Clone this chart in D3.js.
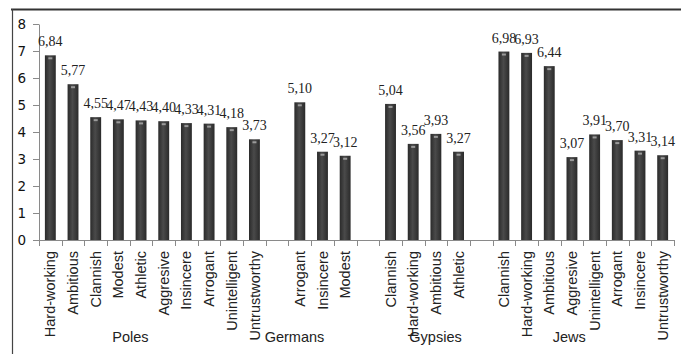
<!DOCTYPE html>
<html>
<head>
<meta charset="utf-8">
<script src="https://cdn.jsdelivr.net/npm/d3@7"></script>
<style>
  body { margin: 0; background: #fff; }
</style>
</head>
<body>
<svg id="chart"></svg>
<script>
// values
const groups = ["Poles", "Germans", "Gypsies", "Jews"];
const polesTraits = ["Hard-working", "Ambitious", "Clannish", "Modest", "Athletic", "Aggresive", "Insincere", "Arrogant", "Unintelligent", "Untrustworthy"];
const polesValues = [6.84, 5.77, 4.55, 4.47, 4.43, 4.40, 4.33, 4.31, 4.18, 3.73];
const germansTraits = ["Arrogant", "Insincere", "Modest"];
const germansValues = [5.10, 3.27, 3.12];
const gypsiesTraits = ["Clannish", "Hard-working", "Ambitious", "Athletic"];
const gypsiesValues = [5.04, 3.56, 3.93, 3.27];
const jewsTraits = ["Clannish", "Hard-working", "Ambitious", "Aggresive", "Unintelligent", "Arrogant", "Insincere", "Untrustworthy"];
const jewsValues = [6.98, 6.93, 6.44, 3.07, 3.91, 3.70, 3.31, 3.14];
const yTicks = [0, 1, 2, 3, 4, 5, 6, 7, 8];

const traits = [polesTraits, germansTraits, gypsiesTraits, jewsTraits];
const values = [polesValues, germansValues, gypsiesValues, jewsValues];

const width = 694, height = 357;
const plot = { left: 39, right: 674, top: 24, bottom: 240 };
// group captions are not centred in the original
const groupNudge = { Poles: -22, Germans: -28, Gypsies: 11, Jews: -14 };

const svg = d3.select("#chart")
    .attr("width", width)
    .attr("height", height);

// one slot per bar, plus an empty slot between groups
const slots = [];
groups.forEach((g, gi) => {
    traits[gi].forEach((t, i) => {
        slots.push({ group: g, trait: t, value: values[gi][i], key: g + "|" + t });
    });
    if (gi < groups.length - 1) slots.push({ key: "gap" + gi });
});
const bars = slots.filter(d => d.group);

const x = d3.scaleBand()
    .domain(slots.map(d => d.key))
    .range([plot.left, plot.right])
    .padding(0);
const step = x.step();

const y = d3.scaleLinear()
    .domain([0, 8])
    .range([plot.bottom, plot.top]);

const comma = d3.formatLocale({ decimal: ",", thousands: ".", grouping: [3], currency: ["", ""] }).format(".2f");

// bar shading
const grad = svg.append("defs").append("linearGradient")
    .attr("id", "barGrad")
    .attr("x1", "0%").attr("x2", "100%").attr("y1", "0%").attr("y2", "0%");
grad.append("stop").attr("offset", "0%").attr("stop-color", "#2a2a2a");
grad.append("stop").attr("offset", "45%").attr("stop-color", "#4a4a4a");
grad.append("stop").attr("offset", "100%").attr("stop-color", "#2a2a2a");

// frame (only top and left edge survive the crop)
svg.append("line")
    .attr("x1", 11).attr("x2", 681).attr("y1", 9.5).attr("y2", 9.5)
    .attr("stroke", "#333").attr("stroke-width", 2);
svg.append("line")
    .attr("x1", 12.5).attr("x2", 12.5).attr("y1", 9).attr("y2", 354)
    .attr("stroke", "#444").attr("stroke-width", 1.2);

// y axis
const yAxis = svg.append("g")
    .attr("transform", `translate(${plot.left},0)`)
    .call(d3.axisLeft(y).tickValues(yTicks).tickSize(6).tickPadding(7).tickSizeOuter(0));
yAxis.select(".domain").attr("stroke", "#8a8a8a");
yAxis.selectAll(".tick line").attr("stroke", "#8a8a8a");
yAxis.selectAll(".tick text")
    .attr("fill", "#111")
    .style("font-family", "'DejaVu Sans', Verdana, sans-serif")
    .style("font-size", "13.5px");

// x axis line and boundary ticks
const xAxis = svg.append("g");
xAxis.append("line")
    .attr("x1", plot.left).attr("x2", plot.right)
    .attr("y1", plot.bottom + 0.5).attr("y2", plot.bottom + 0.5)
    .attr("stroke", "#8a8a8a");
const bounds = slots.map(d => x(d.key)).concat([plot.right]);
xAxis.selectAll(".xtick")
    .data(bounds)
    .enter()
    .append("line")
    .attr("class", "xtick")
    .attr("x1", d => Math.round(d) + 0.5).attr("x2", d => Math.round(d) + 0.5)
    .attr("y1", plot.bottom).attr("y2", plot.bottom + 6)
    .attr("stroke", "#8a8a8a");

// bars
const barW = step * 0.48;
svg.selectAll(".bar")
    .data(bars)
    .enter()
    .append("rect")
    .attr("class", "bar")
    .attr("x", d => x(d.key) + (step - barW) / 2)
    .attr("y", d => y(d.value))
    .attr("width", barW)
    .attr("height", d => y(0) - y(d.value))
    .attr("fill", "url(#barGrad)");

// small light cap on top of each bar
svg.selectAll(".cap")
    .data(bars)
    .enter()
    .append("rect")
    .attr("class", "cap")
    .attr("x", d => x(d.key) + step / 2 - 2)
    .attr("y", d => y(d.value) + 2)
    .attr("width", 4)
    .attr("height", 2)
    .attr("fill", "#9a9a9a");

// value labels
svg.selectAll(".val")
    .data(bars)
    .enter()
    .append("text")
    .attr("class", "val")
    .attr("x", d => x(d.key) + step / 2)
    .attr("y", d => y(d.value) - 9)
    .attr("text-anchor", "middle")
    .style("font-family", "'Liberation Serif', 'Times New Roman', serif")
    .style("font-size", "14px")
    .attr("fill", "#222")
    .text(d => comma(d.value));

// rotated trait labels
svg.selectAll(".cat")
    .data(bars)
    .enter()
    .append("text")
    .attr("class", "cat")
    .attr("transform", d => `translate(${x(d.key) + step / 2},251) rotate(-90)`)
    .attr("dy", "0.35em")
    .attr("text-anchor", "end")
    .style("font-family", "'Liberation Sans', Arial, sans-serif")
    .style("font-size", "14.5px")
    .attr("fill", "#222")
    .text(d => d.trait);

// group captions
svg.selectAll(".grp")
    .data(groups)
    .enter()
    .append("text")
    .attr("class", "grp")
    .attr("x", g => {
        const members = bars.filter(d => d.group === g);
        const x0 = x(members[0].key), x1 = x(members[members.length - 1].key) + step;
        return (x0 + x1) / 2 + groupNudge[g];
    })
    .attr("y", 342)
    .attr("text-anchor", "middle")
    .style("font-family", "'Liberation Sans', Arial, sans-serif")
    .style("font-size", "14.5px")
    .attr("fill", "#222")
    .text(g => g);
</script>
</body>
</html>
